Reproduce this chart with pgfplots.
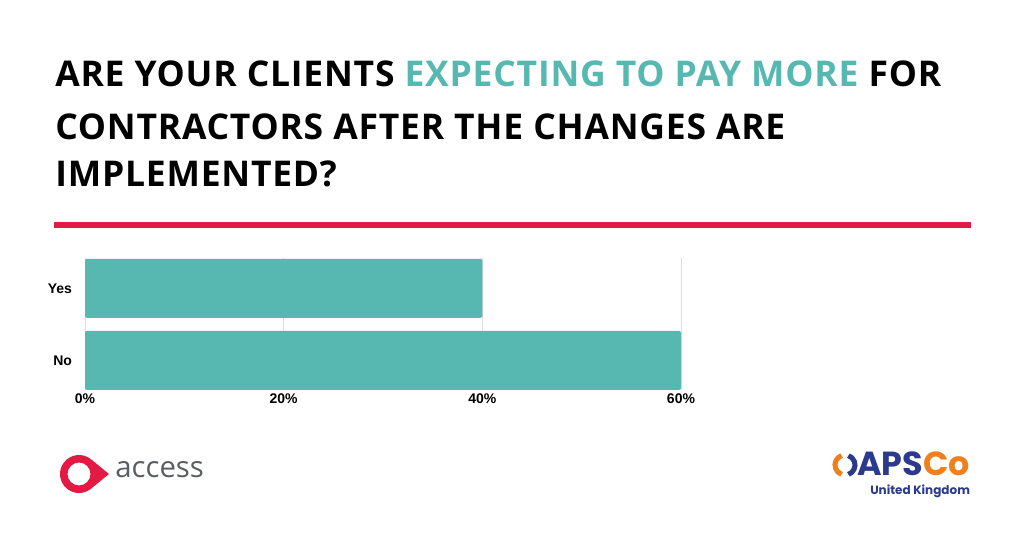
\documentclass[border=0pt]{standalone}
\usepackage{fontspec}
\setmainfont{Liberation Sans}
\newfontfamily\os{Open Sans}
\newfontfamily\ost{Open Sans}[LetterSpace=2.2]
\newfontfamily\pop{Poppins}
\usepackage{pgfplots}
\pgfplotsset{compat=1.18}
\usetikzlibrary{calc}
\definecolor{teal1}{HTML}{57B8B2}
\definecolor{redline}{HTML}{E31B44}
\definecolor{accgrey}{HTML}{5A5E63}
\definecolor{navy}{HTML}{2B3A8C}
\definecolor{orng}{HTML}{F07F1E}
\definecolor{gridc}{HTML}{DDDDDD}
\begin{document}
\begin{tikzpicture}[x=0.75pt,y=0.75pt]
\useasboundingbox (0,0) rectangle (1024,535);
\fill[white] (0,0) rectangle (1024,535);
% title
\node[anchor=base west,inner sep=0pt] at (55,448) {\ost\bfseries\fontsize{26.6}{30}\selectfont ARE YOUR CLIENTS \textcolor{teal1}{EXPECTING TO PAY MORE} FOR};
\node[anchor=base west,inner sep=0pt] at (55,395) {\ost\bfseries\fontsize{26.6}{30}\selectfont CONTRACTORS AFTER THE CHANGES ARE};
\node[anchor=base west,inner sep=0pt] at (55,348) {\ost\bfseries\fontsize{26.6}{30}\selectfont IMPLEMENTED?};
% red rule
\fill[redline] (54,306.7) rectangle (971,313.3);
% chart
\begin{axis}[
  at={(63.75pt,108.75pt)}, anchor=south west,
  scale only axis, width=447pt, height=99pt,
  xbar, bar width=44.25pt, bar shift=0pt,
  xmin=0, xmax=60, ymin=-0.41, ymax=1.42,
  xtick={0,20,40,60}, xticklabels={0\%,20\%,40\%,60\%},
  ytick={0,1}, yticklabels={No,Yes},
  axis line style={draw=none}, major tick style={draw=none},
  xmajorgrids, major grid style={color=gridc,line width=0.75pt},
  ticklabel style={font=\bfseries\fontsize{10.5}{12}\selectfont},
  xticklabel style={yshift=0.5pt},
  yticklabel style={xshift=-2pt},
  clip=false,
]
\addplot[fill=teal1,draw=none,rounded corners=1.5pt] coordinates {(60,0) (40,1)};
\end{axis}
% access logo
\fill[redline,even odd rule] (109,61) -- ($(79,61)+(52:19)$) arc[start angle=52,end angle=308,radius=19] -- cycle
  (79,61) circle[radius=11.5];
\node[anchor=base west,inner sep=0pt,text=accgrey] at (115,57) {\os\fontsize{22}{25}\selectfont access};
% APSCo logo
\draw[orng,line width=3.8pt] (845,70) ++(110:10) arc[start angle=110,end angle=250,radius=10];
\draw[navy,line width=3.8pt] (845,70) ++(-70:10) arc[start angle=-70,end angle=70,radius=10];
\node[anchor=base west,inner sep=0pt,text depth=0pt] at (857,59) {\pop\bfseries\fontsize{25}{30}\selectfont\textcolor{navy}{APS}\textcolor{orng}{Co}};
\node[anchor=base west,inner sep=0pt,text depth=0pt,text height=6.5pt] at (870,40.5) {\pop\bfseries\fontsize{9}{11}\selectfont\textcolor{navy}{United Kingdom}};
\end{tikzpicture}
\end{document}
